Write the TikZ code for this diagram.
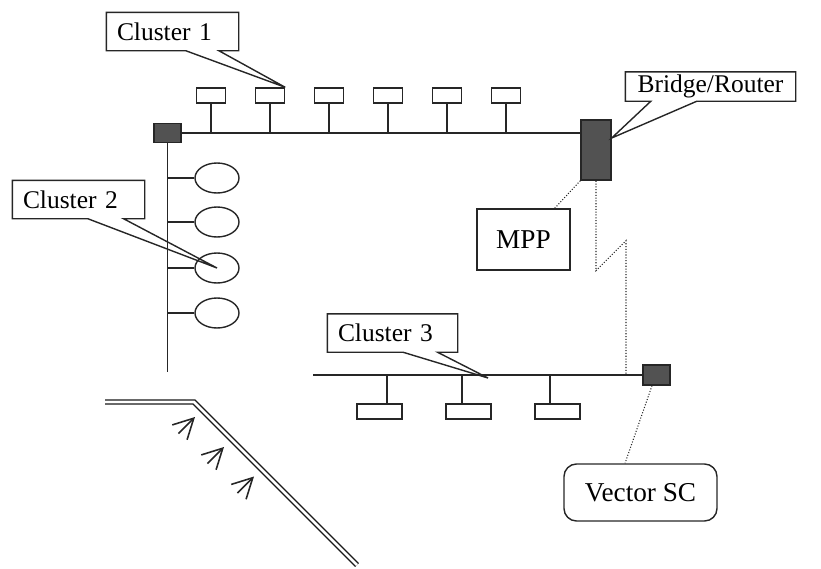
\documentclass[tikz,border=0pt]{standalone}
\usepackage{fontspec}
\setmainfont{Liberation Serif}
\usetikzlibrary{arrows.meta,calc,shapes.geometric}

\begin{document}
\begin{tikzpicture}[line width=0.8pt,draw=black!85,>={Straight Barb[length=4mm,width=4.2mm]},
  may/.style={draw,minimum width=5.8mm,minimum height=3mm,inner sep=0pt},
  may3/.style={draw,minimum width=9mm,minimum height=3mm,inner sep=0pt},
  nut/.style={draw,ellipse,minimum width=8.8mm,minimum height=6mm,inner sep=0pt},
  tram/.style={draw=black!85,fill=black!68,inner sep=0pt},
  nhan/.style={font=\fontsize{14.5}{17}\selectfont,inner xsep=2mm,inner ysep=0pt,text width=#1,align=left,minimum height=7.4mm},
  hop/.style={draw,font=\fontsize{15.5}{18}\selectfont,inner sep=0pt},
  noi/.style={densely dotted,line width=0.6pt}]
  \useasboundingbox (0,0) rectangle (16.42,11.36);

  % cluster 1: bus tren
  \node[tram,minimum width=5.4mm,minimum height=3.8mm] (s1) at (3.35,8.70) {};
  \node[tram,minimum width=6mm,minimum height=12mm] (br) at (11.92,8.36) {};
  \draw (s1.east) -- (s1.east -| br.west);
  \foreach \i in {1,...,6}{
    \node[may] (c\i) at ({4.22+1.18*(\i-1)},9.45) {};
    \draw (c\i.south) -- (c\i.south |- s1.east);
  }

  % cluster 2: bus doc
  \coordinate (d2) at (3.35,3.92);
  \draw (s1.south) -- (d2);
  \foreach \i/\y in {1/7.80,2/6.92,3/6.00,4/5.10}{
    \node[nut] (e\i) at (4.34,\y) {};
    \draw (e\i.west) -- (e\i.west -| s1.south);
  }

  % cluster 3
  \node[tram,minimum width=5.4mm,minimum height=4mm] (s3) at (13.13,3.86) {};
  \coordinate (d3) at (6.26,3.86);
  \draw (d3) -- (s3.west);
  \foreach \i/\x/\o in {1/7.59/0.15,2/9.37/-0.13,3/11.15/-0.15}{
    \node[may3] (k\i) at (\x,3.13) {};
    \draw ([xshift=\o cm]k\i.north) -- ([xshift=\o cm]k\i.north |- d3);
  }

  % nhan chu thich
  \node[nhan=22.2mm] (l1) at (3.45,10.73) {Cluster 1};
  \draw (l1.south west) -- ($(l1.south west)!0.60!(l1.south east)$) -- (c2.north east)
    -- ($(l1.south west)!0.85!(l1.south east)$) -- (l1.south east) -- (l1.north east) -- (l1.north west) -- cycle;
  \node[nhan=22.2mm] (l2) at (1.57,7.37) {Cluster 2};
  \draw (l2.south west) -- ($(l2.south west)!0.57!(l2.south east)$) -- (e3.center)
    -- ($(l2.south west)!0.84!(l2.south east)$) -- (l2.south east) -- (l2.north east) -- (l2.north west) -- cycle;
  \coordinate (t3) at (9.76,3.80);
  \node[nhan=21.8mm] (l3) at (7.85,4.70) {Cluster 3};
  \draw (l3.south west) -- ($(l3.south west)!0.58!(l3.south east)$) -- (t3)
    -- ($(l3.south west)!0.845!(l3.south east)$) -- (l3.south east) -- (l3.north east) -- (l3.north west) -- cycle;
  \node[font=\fontsize{14.5}{17}\selectfont,inner sep=0pt,minimum width=33.8mm,minimum height=5.6mm] (l4) at (14.21,9.63) {Bridge/Router};
  \draw (l4.south west) -- ($(l4.south west)!0.15!(l4.south east)$) -- ([yshift=2.4mm]br.east)
    -- ($(l4.south west)!0.42!(l4.south east)$) -- (l4.south east) -- (l4.north east) -- (l4.north west) -- cycle;

  % MPP va Vector SC
  \node[hop,minimum width=18.6mm,minimum height=12.2mm] (mpp) at (10.47,6.57) {MPP};
  \draw[noi] (br.south west) -- ($(mpp.north west)!0.83!(mpp.north east)$);
  \draw[noi] (br.south) -- ++(0,-1.80) -- ++(0.60,0.60) -- ++(0,-2.70);
  \node[hop,rounded corners=2.5mm,minimum width=30.6mm,minimum height=11.4mm] (vsc) at (12.81,1.51) {Vector SC};
  \draw[noi] ([xshift=-0.09cm]s3.south) -- ([xshift=-0.31cm]vsc.north);

  % duong doi va mui ten
  \draw[double distance=1.5pt,line width=0.8pt,draw=black!90] (2.10,3.32) -- (3.88,3.32) -- (7.14,0.06);
  \foreach \x/\y in {3.57/2.69,4.15/2.09,4.75/1.50}
    \draw[->,line width=0.9pt] (\x,\y) -- ++(0.33,0.33);
\end{tikzpicture}
\end{document}
